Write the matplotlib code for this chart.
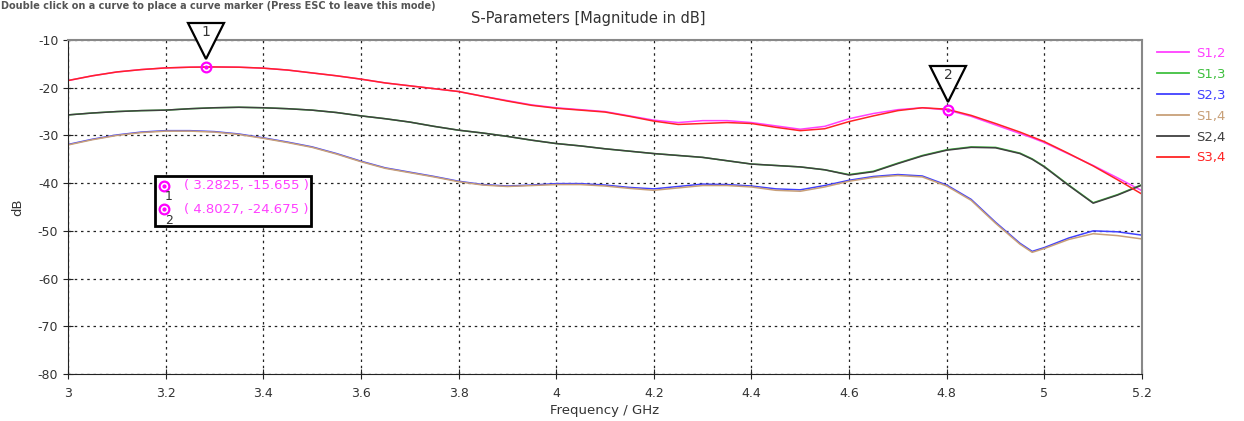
import matplotlib
matplotlib.use("Agg")
import matplotlib.pyplot as plt
from matplotlib.patches import Rectangle
from matplotlib.lines import Line2D
from matplotlib.transforms import offset_copy

plt.rcParams["axes.unicode_minus"] = False

# frequency points (GHz)
freq = [3.00, 3.05, 3.10, 3.15, 3.20, 3.25, 3.30, 3.35, 3.40, 3.45,
        3.50, 3.55, 3.60, 3.65, 3.70, 3.75, 3.80, 3.85, 3.90, 3.95,
        4.00, 4.05, 4.10, 4.15, 4.20, 4.25, 4.30, 4.35, 4.40, 4.45,
        4.50, 4.55, 4.60, 4.65, 4.70, 4.75, 4.80, 4.85, 4.90, 4.95,
        4.975, 5.00, 5.05, 5.10, 5.15, 5.20]

s12 = [-18.5, -17.5, -16.7, -16.2, -15.85, -15.7, -15.65, -15.7, -15.9, -16.3,
       -16.9, -17.5, -18.2, -19.0, -19.6, -20.2, -20.8, -21.8, -22.7, -23.6,
       -24.2, -24.6, -25.0, -25.9, -26.8, -27.3, -26.9, -26.9, -27.3, -28.0,
       -28.7, -28.1, -26.5, -25.4, -24.6, -24.2, -24.65, -26.0, -27.8, -29.6,
       -30.5, -31.5, -33.9, -36.3, -38.9, -41.6]
s34 = [-18.5, -17.5, -16.7, -16.2, -15.85, -15.7, -15.65, -15.7, -15.9, -16.3,
       -16.9, -17.5, -18.2, -19.0, -19.6, -20.2, -20.8, -21.8, -22.8, -23.7,
       -24.3, -24.7, -25.1, -26.0, -27.0, -27.7, -27.5, -27.3, -27.5, -28.3,
       -29.0, -28.6, -27.1, -25.9, -24.8, -24.2, -24.5, -25.8, -27.5, -29.3,
       -30.3, -31.3, -33.8, -36.4, -39.3, -42.3]
s24 = [-25.7, -25.3, -25.0, -24.8, -24.7, -24.4, -24.2, -24.1, -24.2, -24.4,
       -24.7, -25.2, -25.9, -26.5, -27.2, -28.1, -28.9, -29.5, -30.2, -31.0,
       -31.7, -32.2, -32.8, -33.3, -33.8, -34.2, -34.6, -35.3, -36.0, -36.3,
       -36.6, -37.2, -38.3, -37.6, -35.9, -34.3, -33.1, -32.5, -32.6, -33.8,
       -35.0, -36.6, -40.5, -44.2, -42.5, -40.4]
s13 = [-25.7, -25.3, -25.0, -24.8, -24.7, -24.4, -24.2, -24.1, -24.2, -24.4,
       -24.7, -25.2, -25.9, -26.5, -27.2, -28.1, -28.9, -29.5, -30.2, -31.0,
       -31.7, -32.2, -32.8, -33.3, -33.8, -34.2, -34.6, -35.3, -36.0, -36.3,
       -36.6, -37.2, -38.2, -37.5, -35.8, -34.2, -33.0, -32.4, -32.5, -33.7,
       -34.9, -36.5, -40.4, -44.1, -42.4, -40.3]
s23 = [-31.9, -30.8, -29.9, -29.3, -29.0, -29.0, -29.2, -29.7, -30.5, -31.4,
       -32.4, -33.8, -35.4, -36.8, -37.7, -38.6, -39.6, -40.3, -40.6, -40.4,
       -40.1, -40.1, -40.4, -40.9, -41.2, -40.7, -40.2, -40.3, -40.6, -41.2,
       -41.4, -40.5, -39.4, -38.6, -38.2, -38.5, -40.4, -43.4, -48.2, -52.6,
       -54.3, -53.5, -51.5, -50.0, -50.2, -50.9]
s14 = [-32.0, -30.9, -30.0, -29.4, -29.1, -29.1, -29.3, -29.8, -30.6, -31.5,
       -32.5, -33.9, -35.5, -36.9, -37.8, -38.7, -39.7, -40.4, -40.7, -40.5,
       -40.3, -40.3, -40.6, -41.1, -41.5, -41.0, -40.5, -40.5, -40.8, -41.5,
       -41.7, -40.8, -39.6, -38.8, -38.4, -38.7, -40.6, -43.6, -48.4, -52.8,
       -54.5, -53.7, -51.8, -50.6, -51.0, -51.7]

labels = ["S1,2", "S1,3", "S2,3", "S1,4", "S2,4", "S3,4"]
series = [s12, s13, s23, s14, s24, s34]
colors = ["#ff40ff", "#40c040", "#4040ff", "#c8a078", "#404040", "#ff2424"]

# curve markers
mark_f = [3.2825, 4.8027]
mark_db = [-15.655, -24.675]
mark_names = ["1", "2"]

fig = plt.figure(figsize=(12.44, 4.21), dpi=100)
ax = fig.add_axes([68 / 1244, 1 - 374 / 421, 1074 / 1244, 334 / 421])

for lab, ys, c in zip(labels, series, colors):
    ax.plot(freq, ys, color=c, lw=1.1, label=lab)

ax.set_xlim(3, 5.2)
ax.set_ylim(-80, -10)
ax.set_xticks([3, 3.2, 3.4, 3.6, 3.8, 4, 4.2, 4.4, 4.6, 4.8, 5, 5.2])
ax.set_xticklabels(["3", "3.2", "3.4", "3.6", "3.8", "4", "4.2", "4.4", "4.6", "4.8", "5", "5.2"])
ax.set_yticks(range(-80, 0, 10))
ax.grid(True, color="#222222", linestyle=(0, (2, 3)), lw=0.9)
ax.tick_params(direction="inout", length=7, labelsize=9, labelcolor="#333333", color="#222222")
ax.tick_params(axis="x", pad=6)
for s in ["left", "bottom"]:
    ax.spines[s].set_color("#222222")
for s in ["top", "right"]:
    ax.spines[s].set_color("#888888")
    ax.spines[s].set_linewidth(1.5)

ax.set_xlabel("Frequency / GHz", fontsize=9.5, color="#333333", labelpad=3)
ax.set_ylabel("dB", fontsize=9.5, color="#333333", labelpad=10)
fig.text(588 / 1244, 1 - 18 / 421, "S-Parameters [Magnitude in dB]", ha="center", va="center",
         fontsize=10.5, color="#333333")
fig.text(0.001, 1 - 6 / 421,
         "Double click on a curve to place a curve marker (Press ESC to leave this mode)",
         ha="left", va="center", fontsize=7, weight="bold", color="#555555")

# markers with triangles
tri = offset_copy(ax.transData, fig=fig, y=19, units="points")
num = offset_copy(ax.transData, fig=fig, y=25, units="points")
for f, d, n in zip(mark_f, mark_db, mark_names):
    ax.plot([f], [d], "v", ms=26, mfc="white", mec="black", mew=1.6, transform=tri,
            clip_on=False, zorder=5)
    ax.text(f, d, n, transform=num, ha="center", va="center", fontsize=10, color="#333333",
            zorder=6, clip_on=False)
    ax.plot([f], [d], "o", ms=7, mfc="none", mec="#ff00ff", mew=1.6, zorder=7)
    ax.plot([f], [d], "o", ms=2, color="#ff00ff", zorder=7)

# info box
box = Rectangle((87 / 1074, (374 - 226) / 334), 156 / 1074, 50 / 334, transform=ax.transAxes,
                facecolor="white", edgecolor="black", lw=2, zorder=8)
ax.add_patch(box)
for i, (f, d, n) in enumerate(zip(mark_f, mark_db, mark_names)):
    yy = (374 - (186 + 23 * i)) / 334
    ax.plot([96 / 1074], [yy], "o", ms=7, mfc="none", mec="#ff00ff", mew=1.6,
            transform=ax.transAxes, zorder=9, clip_on=False)
    ax.plot([96 / 1074], [yy], "o", ms=2, color="#ff00ff", transform=ax.transAxes, zorder=9)
    ax.text(101 / 1074, yy - 11 / 334, n, transform=ax.transAxes, ha="center", va="center",
            fontsize=9, color="#333333", zorder=9)
    ax.text(116 / 1074, yy, "( %.4f, %.3f )" % (f, d), transform=ax.transAxes, ha="left",
            va="center", fontsize=9.5, color="#ff40ff", zorder=9)

handles = [Line2D([], [], color=c, lw=1.3) for c in colors]
leg = fig.legend(handles, labels, loc="upper left", bbox_to_anchor=(1145 / 1244, 1 - 35 / 421),
                 frameon=False, fontsize=9.5, handlelength=2.4, labelspacing=0.6,
                 handletextpad=0.6, labelcolor=colors)

fig.savefig("out.png", dpi=100)
